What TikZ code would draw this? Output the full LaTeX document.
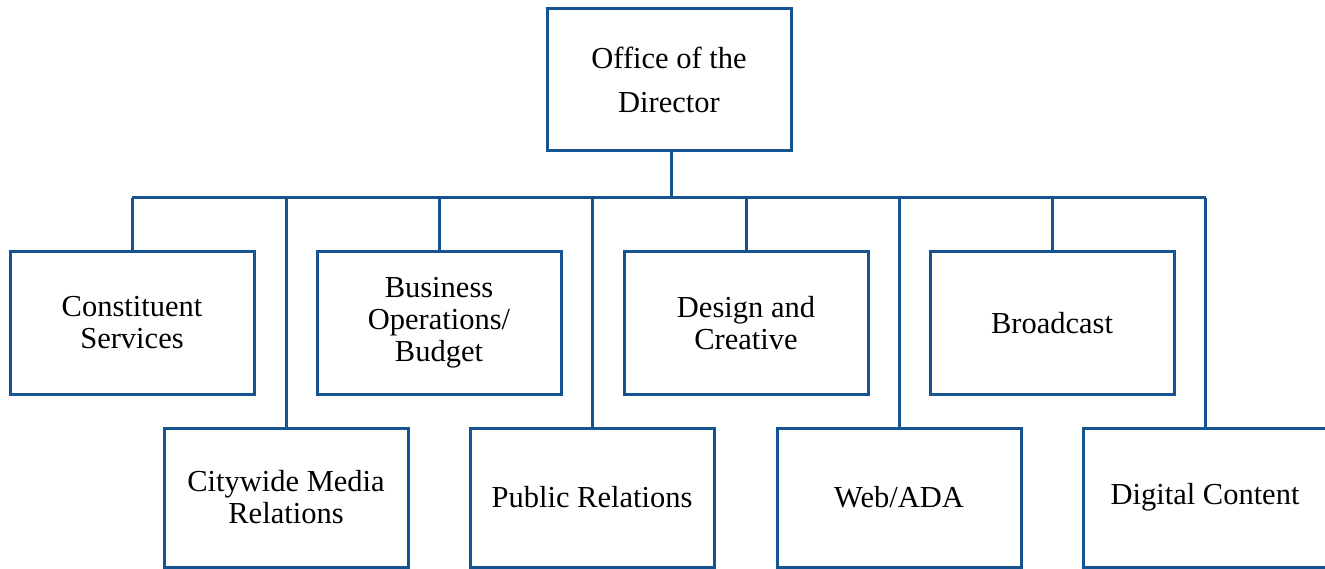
\documentclass[tikz,border=0pt]{standalone}
\usepackage{fontspec}
\setmainfont{Liberation Serif}
\definecolor{orgblue}{RGB}{22,84,145}
\begin{document}
\begin{tikzpicture}[x=1pt,y=-1pt,
  unitbox/.style={draw=orgblue, line width=3pt, fill=white, minimum width=244pt, minimum height=142pt,
    inner sep=0pt, align=center, font=\fontsize{30.5}{32}\selectfont},
  lowbox/.style={unitbox, minimum height=139pt},
  link/.style={draw=orgblue, line width=3pt}]
\useasboundingbox (0,0) rectangle (1325,569);
\clip (0,0) rectangle (1325,569);
\node[unitbox, font=\fontsize{30.5}{44}\selectfont] (dir) at (669,79.5) {Office of the\\Director};
\coordinate (busL) at (132,198);
\coordinate (busR) at (1206,198);
\node[unitbox] (cs) at (132,323) {Constituent\\Services};
\node[unitbox] (bo) at (439,323) {Business\\Operations/\\Budget};
\node[unitbox] (dc) at (746,323) {Design and\\Creative};
\node[unitbox] (bc) at (1052,323) {Broadcast};
\node[lowbox] (cm) at (286,497.5) {Citywide Media\\Relations};
\node[lowbox] (pr) at (592,497.5) {Public Relations};
\node[lowbox] (wa) at (899,497.5) {Web/ADA};
\node[lowbox] (dg) at (1205,497.5) {Digital Content};
\draw[link] (dir.south) ++(2,0) coordinate (stemtop) -- (stemtop |- busL);
\draw[link] (busL) -- (busR);
\foreach \n in {cs,bo,dc,bc,cm,pr,wa,dg}{
  \draw[link] (\n.north |- busL) -- (\n.north);
}
\end{tikzpicture}
\end{document}
